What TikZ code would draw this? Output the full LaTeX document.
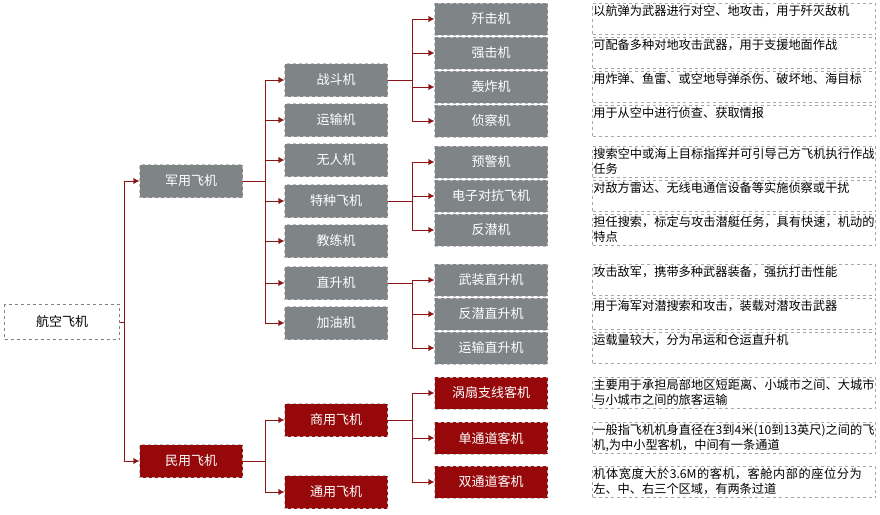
\documentclass[tikz,border=0pt]{standalone}
\usepackage{fontspec}
\setmainfont{Noto Sans CJK SC}
\XeTeXlinebreaklocale "zh"
\XeTeXlinebreakskip=0pt plus 1pt
\usetikzlibrary{positioning,arrows.meta}
\definecolor{boxgray}{RGB}{127,132,135}
\definecolor{boxred}{RGB}{150,8,10}
\definecolor{linered}{RGB}{140,20,20}
\tikzset{
  graybox/.style={draw=gray!50, dashed, fill=boxgray, text=white, minimum width=103pt, minimum height=33pt, inner sep=0pt, font=\fontsize{13}{15}\selectfont},
  redbox/.style={graybox, fill=boxred},
  leafbox/.style={graybox, minimum width=113pt, minimum height=32pt},
  rootbox/.style={draw=gray, dashed, fill=white, text=black, minimum width=115pt, minimum height=35pt, font=\fontsize{13}{15}\selectfont},
  descbox/.style={draw=gray!70, dashed, thick, minimum width=283pt, minimum height=31pt, inner sep=0pt},
  desctext/.style={anchor=north west, text width=282pt, inner sep=1pt, align=left, font=\fontsize{12.2}{15}\selectfont},
  arr/.style={draw=linered, -{Latex[length=6pt,width=6pt]}},
}
\begin{document}
\begin{tikzpicture}[x=1pt, y=-1pt]
  \useasboundingbox (0,0) rectangle (880,514);

  \node[rootbox] (root) at (62,322) {航空飞机};
  \node[graybox] (mil) at (191,181) {军用飞机};
  \node[redbox] (civ) at (191,461) {民用飞机};

  % military second level
  \node[graybox] (fight) at (336,80) {战斗机};
  \node[graybox] (trans) at (336,120) {运输机};
  \node[graybox] (uav) at (336,160) {无人机};
  \node[graybox] (spec) at (336,201) {特种飞机};
  \node[graybox] (train) at (336,241) {教练机};
  \node[graybox] (heli) at (336,283) {直升机};
  \node[graybox] (tank) at (336,323) {加油机};
  % civil second level
  \node[redbox] (comm) at (336,420) {商用飞机};
  \node[redbox] (gen) at (336,492) {通用飞机};

  % third level
  \node[leafbox] (l1) at (491,19) {歼击机};
  \node[leafbox] (l2) at (491,53) {强击机};
  \node[leafbox] (l3) at (491,87) {轰炸机};
  \node[leafbox] (l4) at (491,121) {侦察机};
  \node[leafbox] (l5) at (491,162) {预警机};
  \node[leafbox] (l6) at (491,196) {电子对抗飞机};
  \node[leafbox] (l7) at (491,230) {反潜机};
  \node[leafbox] (l8) at (491,280) {武装直升机};
  \node[leafbox] (l9) at (491,314) {反潜直升机};
  \node[leafbox] (l10) at (491,348) {运输直升机};
  \node[leafbox, fill=boxred] (l11) at (491,393) {涡扇支线客机};
  \node[leafbox, fill=boxred] (l12) at (491,438) {单通道客机};
  \node[leafbox, fill=boxred] (l13) at (491,482) {双通道客机};

  % descriptions
  \foreach \i/\t in {
    1/{以航弹为武器进行对空、地攻击，用于歼灭敌机},
    2/{可配备多种对地攻击武器，用于支援地面作战},
    3/{用炸弹、鱼雷、或空地导弹杀伤、破坏地、海目标},
    4/{用于从空中进行侦查、获取情报},
    5/{搜索空中或海上目标指挥并可引导己方飞机执行作战任务},
    6/{对敌方雷达、无线电通信设备等实施侦察或干扰},
    7/{担任搜索，标定与攻击潜艇任务，具有快速，机动的特点},
    8/{攻击敌军，携带多种武器装备，强抗打击性能},
    9/{用于海军对潜搜索和攻击，装载对潜攻击武器},
    10/{运载量较大，分为吊运和仓运直升机},
    11/{主要用于承担局部地区短距离、小城市之间、大城市与小城市之间的旅客运输},
    12/{一般指飞机机身直径在3到4米(10到13英尺)之间的飞机,为中小型客机，中间有一条通道},
    13/{机体宽度大於3.6M的客机，客舱内部的座位分为左、中、右三个区域，有两条过道}}{
    \node[descbox] (d\i) at (l\i.center -| 734,0) {};
    \node[desctext] at ([yshift=-1pt]d\i.north west) {\t};
  }

  % connectors
  \foreach \c in {mil,civ}
    \draw[arr] (root.east) -- ++(4,0) |- (\c.west);
  \foreach \c in {fight,trans,uav,spec,train,heli,tank}
    \draw[arr] (mil.east) -- ++(22,0) |- (\c.west);
  \foreach \c in {comm,gen}
    \draw[arr] (civ.east) -- ++(22,0) |- (\c.west);
  \foreach \c in {l1,l2,l3,l4}
    \draw[arr] (fight.east) -- ++(24,0) |- (\c.west);
  \foreach \c in {l5,l6,l7}
    \draw[arr] (spec.east) -- ++(24,0) |- (\c.west);
  \foreach \c in {l8,l9,l10}
    \draw[arr] (heli.east) -- ++(24,0) |- (\c.west);
  \foreach \c in {l11,l12,l13}
    \draw[arr] (comm.east) -- ++(24,0) |- (\c.west);
\end{tikzpicture}
\end{document}
